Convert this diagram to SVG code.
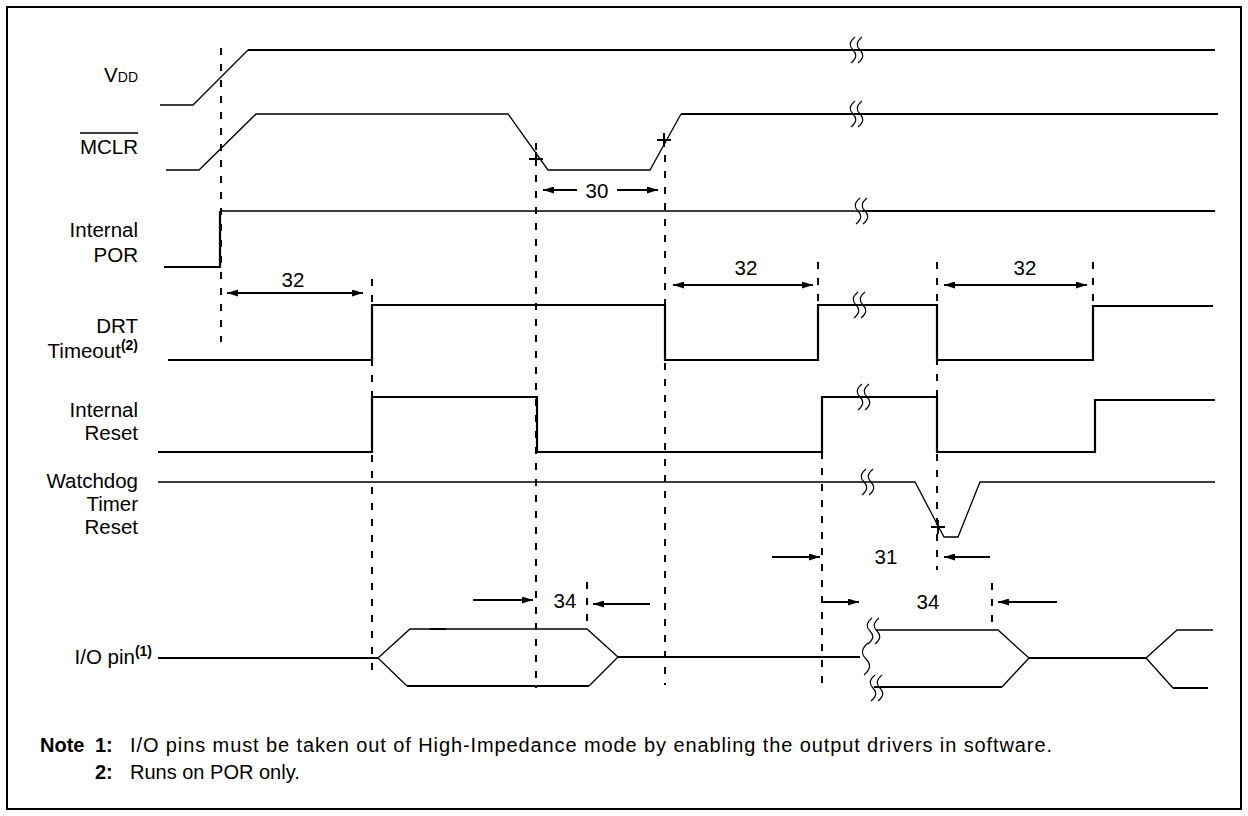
<svg xmlns="http://www.w3.org/2000/svg" width="1248" height="816" viewBox="0 0 1248 816">
<defs>
<style>
text{font-family:"Liberation Sans",Arial,sans-serif;font-size:20.5px;fill:#000}
.num{text-anchor:middle}
.lbl{text-anchor:end}
.b{font-weight:bold}
.note{font-size:20px}
.thick{fill:none;stroke:#000;stroke-width:2.2}
.thin{fill:none;stroke:#000;stroke-width:1.3}
.dash{fill:none;stroke:#000;stroke-width:2;stroke-dasharray:7 9}
.arr{fill:none;stroke:#000;stroke-width:2}
.brk{fill:none;stroke:#000;stroke-width:1.2}
</style>
<marker id="ah" viewBox="0 0 11 7" refX="11" refY="3.5" markerWidth="11" markerHeight="7" orient="auto-start-reverse" markerUnits="userSpaceOnUse"><path d="M0,0 L11,3.5 L0,7 z" fill="#000"/></marker>
<g id="brk2" class="brk"><path d="M -2,-13 C -8,-8 -8,-4 -4,0 C 0,4 0,8 -6,13"/><path d="M 5,-13 C -1,-8 -1,-4 3,0 C 7,4 7,8 1,13"/></g>
<g id="brk1" class="brk"><path d="M 2,-16 C -5,-10 -5,-5 0,0 C 5,5 5,10 -2,16"/></g>
</defs>
<rect x="7" y="7" width="1234" height="802" fill="#fff" stroke="#000" stroke-width="2"/>

<g id="vdd">
<text class="lbl" x="138" y="82">V<tspan font-size="14">DD</tspan></text>
<path class="thin" d="M160,105 H193 L248,50"/>
<path class="thick" d="M248,50 H1215"/>
<use href="#brk2" x="857" y="50"/>
</g>

<g id="mclr">
<text class="lbl" x="138" y="154">MCLR</text>
<path d="M80,133 H138" stroke="#000" stroke-width="1.5"/>
<path class="thin" d="M166,170 H199 L256,114 H508 L548,170 H650 L681,114"/>
<path class="thick" d="M681,114 H1218"/>
<use href="#brk2" x="857" y="114"/>
<path class="arr" d="M529,159 h14 M536,152 v14 M657,140 h14 M664,133 v14"/>
</g>

<g id="por">
<text class="lbl" x="138" y="237">Internal</text>
<text class="lbl" x="138" y="262">POR</text>
<path class="thick" d="M164,267 H220 V211"/>
<path class="thin" d="M220,211 H862"/>
<path class="thick" d="M862,211 H1215"/>
<use href="#brk2" x="862" y="211"/>
</g>

<g id="drt">
<text class="lbl" x="138" y="333">DRT</text>
<text class="lbl" x="138" y="358">Timeout<tspan class="b" font-size="14" dy="-8">(2)</tspan></text>
<path class="thick" d="M168,360 H372 V305 H665 V360 H818 V305 H937 V360 H1093 V306 H1213"/>
<use href="#brk2" x="860" y="305"/>
</g>

<g id="ireset">
<text class="lbl" x="138" y="417">Internal</text>
<text class="lbl" x="138" y="440">Reset</text>
<path class="thick" d="M158,452 H372 V397 H537 V452 H822 V397 H937 V452 H1095 V400 H1215"/>
<use href="#brk2" x="864" y="397"/>
</g>

<g id="wdt">
<text class="lbl" x="138" y="488">Watchdog</text>
<text class="lbl" x="138" y="511">Timer</text>
<text class="lbl" x="138" y="534">Reset</text>
<path class="thin" d="M158,482 H915 L944,537 H958 L980,482 H1215"/>
<use href="#brk2" x="868" y="482"/>
<path class="arr" d="M931,527 h14 M938,520 v14"/>
</g>

<g id="iopin">
<text class="lbl" x="152" y="664">I/O pin<tspan class="b" font-size="14" dy="-8">(1)</tspan></text>
<path class="thick" d="M158,658 H378"/>
<path class="thin" d="M378,658 L410,629 H587 L618,657 M378,658 L407,686 M589,686 L618,657"/>
<path class="thick" d="M407,686 H589 M618,657 H860 M430,629 H446"/>
<path class="thin" d="M876,630 H998 L1029,658 L1002,687 M1146,658 L1177,630 H1213 M1146,658 L1173,688"/>
<path class="thick" d="M874,687 H1002 M1029,658 H1146 M1173,688 H1208"/>
<use href="#brk2" x="874" y="631"/>
<use href="#brk1" x="866" y="659"/>
<use href="#brk2" x="877" y="688"/>
</g>

<g id="connectors">
<path class="dash" d="M221,48 V342 M372,279 V673 M536,143 V688 M665,155 V685 M818,262 V305 M822,452 V683 M937,262 V570 M1093,262 V305 M587,582 V628 M992,583 V630"/>
<path class="arr" d="M227,293 H363" marker-start="url(#ah)" marker-end="url(#ah)"/>
<path class="arr" d="M673,285 H813" marker-start="url(#ah)" marker-end="url(#ah)"/>
<path class="arr" d="M944,285 H1087" marker-start="url(#ah)" marker-end="url(#ah)"/>
<path class="arr" d="M577,190 H543" marker-end="url(#ah)"/>
<path class="arr" d="M617,190 H658" marker-end="url(#ah)"/>
<path class="arr" d="M772,557 H820" marker-end="url(#ah)"/>
<path class="arr" d="M990,557 H944" marker-end="url(#ah)"/>
<path class="arr" d="M473,600 H533" marker-end="url(#ah)"/>
<path class="arr" d="M650,604 H593" marker-end="url(#ah)"/>
<path class="arr" d="M823,602 H859" marker-end="url(#ah)"/>
<path class="arr" d="M1057,602 H998" marker-end="url(#ah)"/>
<text class="num" x="293" y="287">32</text>
<text class="num" x="746" y="275">32</text>
<text class="num" x="1025" y="275">32</text>
<text class="num" x="597" y="198">30</text>
<text class="num" x="886" y="564">31</text>
<text class="num" x="565" y="608">34</text>
<text class="num" x="928" y="609">34</text>
</g>

<g id="notes">
<text class="b note" x="40" y="752">Note</text>
<text class="b note" x="95" y="752">1:</text>
<text class="note" x="130" y="752" textLength="922" lengthAdjust="spacing">I/O pins must be taken out of High-Impedance mode by enabling the output drivers in software.</text>
<text class="b note" x="95" y="779">2:</text>
<text class="note" x="130" y="779">Runs on POR only.</text>
</g>
</svg>
